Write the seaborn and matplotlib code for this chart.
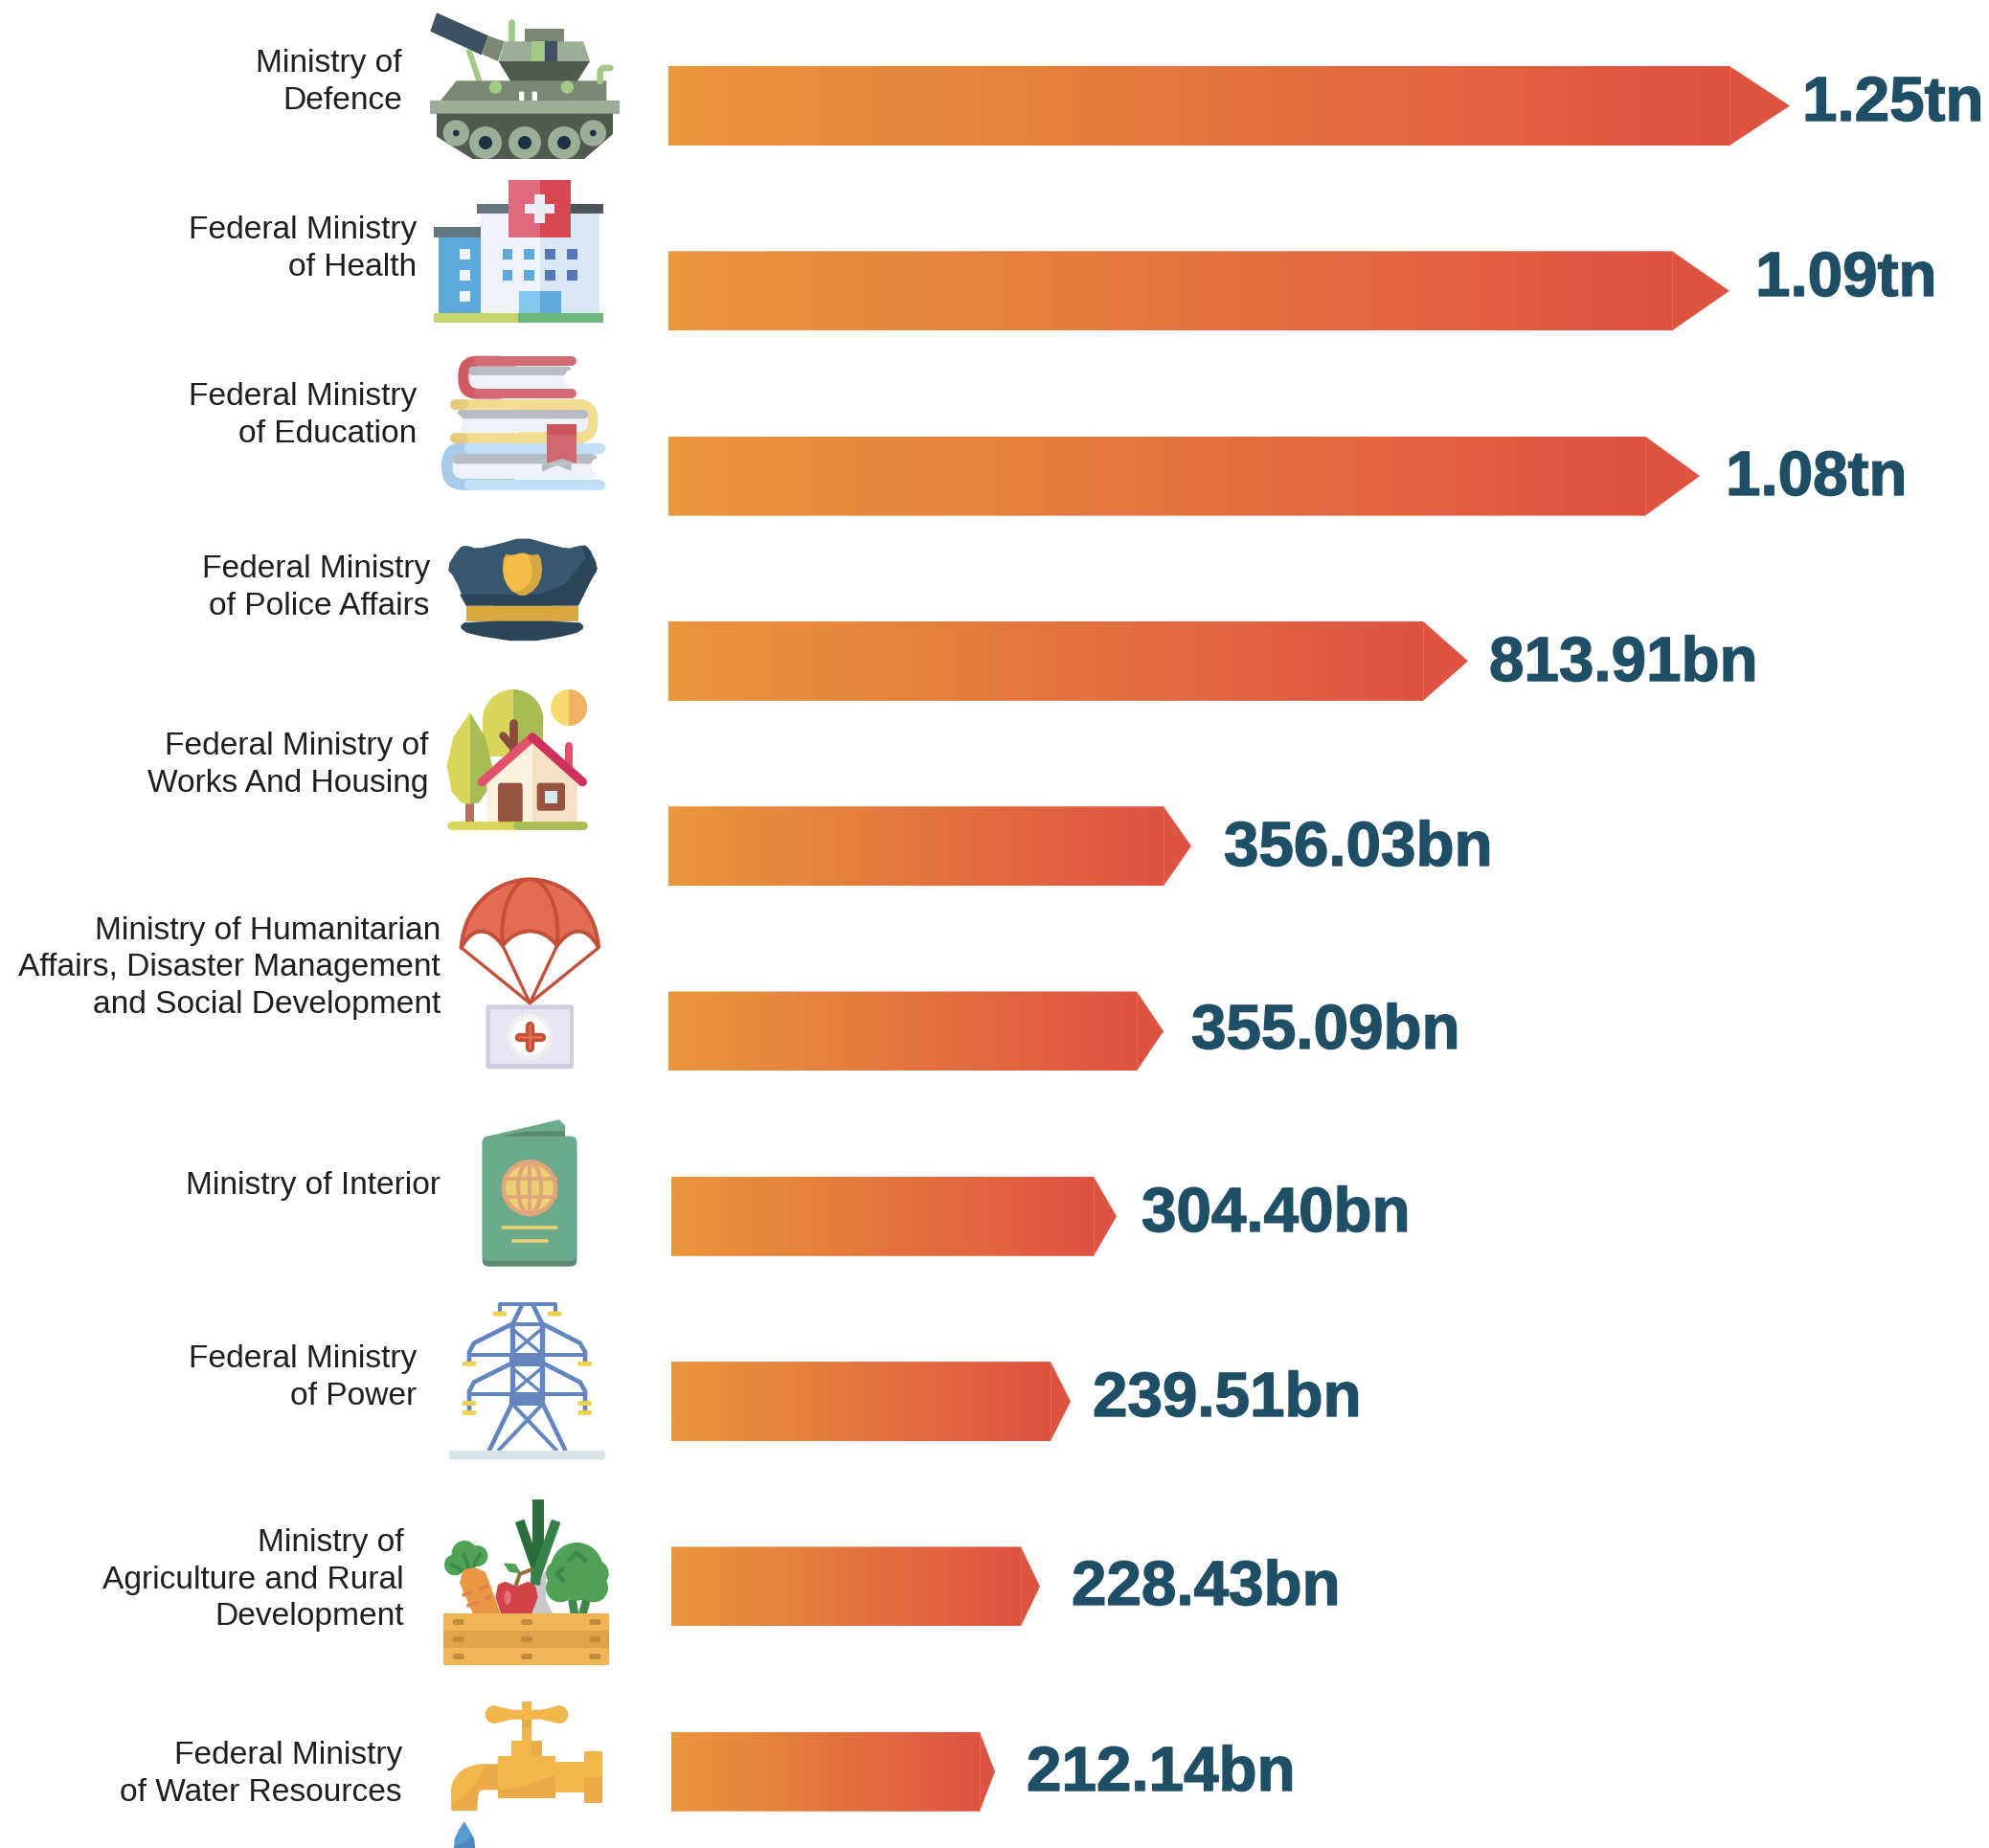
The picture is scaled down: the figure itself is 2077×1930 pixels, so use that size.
import numpy as np
import matplotlib
matplotlib.use("Agg")
import matplotlib.pyplot as plt
import matplotlib.patheffects as pe
from matplotlib.colors import to_rgb
from matplotlib.path import Path
from matplotlib.patches import Polygon, Rectangle, Circle, Ellipse, Wedge, FancyBboxPatch, PathPatch
import seaborn as sns

W, H = 2077, 1930

# ---- data ----
ministries = ["Ministry of\nDefence", "Federal Ministry\nof Health", "Federal Ministry\nof Education",
              "Federal Ministry\nof Police Affairs", "Federal Ministry of\nWorks And Housing",
              "Ministry of Humanitarian\nAffairs, Disaster Management\nand Social Development",
              "Ministry of Interior", "Federal Ministry\nof Power",
              "Ministry of\nAgriculture and Rural\nDevelopment", "Federal Ministry\nof Water Resources"]
value_labels = ["1.25tn", "1.09tn", "1.08tn", "813.91bn", "356.03bn", "355.09bn",
                "304.40bn", "239.51bn", "228.43bn", "212.14bn"]
# the infographic's drawn bar lengths (not to scale with the values)
bar_length = [1108, 1048, 1020, 788, 517, 489, 444, 399, 368, 325]
tip_length = [63, 60, 57, 47, 29, 28, 24, 21, 20, 16]
bar_inset = [0, 0, 0, 0, 0, 0, 3, 3, 3, 3]
name_right = [420, 435, 435, 449, 448, 460, 460, 435, 422, 420]
name_y = [86, 260, 434, 614, 799, 1011, 1238, 1439, 1650, 1853]
value_x = [1882, 1833, 1802, 1555, 1278, 1244, 1192, 1141, 1119, 1072]
value_base = [126, 309, 517, 711, 904, 1095, 1286, 1479, 1676, 1870]

C_LEFT, C_RIGHT = "#EA973C", "#DE5341"
C_VALUE, C_NAME = "#1F4F66", "#1E1E1E"
STEP = 193.3

fig = plt.figure(figsize=(W / 100, H / 100), dpi=100, facecolor="white")
ax = fig.add_axes([0, 0, 1, 1])
sns.barplot(x=bar_length, y=ministries, orient="h", width=83 / STEP, color=C_RIGHT,
            saturation=1, ax=ax)
ax.set_axis_off()

c0, c1 = np.array(to_rgb(C_LEFT)), np.array(to_rgb(C_RIGHT))
for bar, tip, inset in zip(ax.patches, tip_length, bar_inset):
    x0, w = bar.get_x(), bar.get_width()
    bar.set_x(x0 + inset)
    bar.set_width(w - inset)
    y0, h = bar.get_y(), bar.get_height()
    xs = np.linspace(x0 + inset, x0 + w + tip, 300)
    t = np.clip((xs - xs[0]) / (w - inset), 0, 1)
    grad = (c0[None, :] * (1 - t[:, None]) + c1[None, :] * t[:, None])[None, :, :]
    im = ax.imshow(grad, extent=(xs[0], xs[-1], y0 + h, y0), aspect="auto", zorder=3,
                   interpolation="bilinear")
    clip = Polygon([(x0 + inset, y0), (x0 + w, y0), (x0 + w + tip, y0 + h / 2),
                    (x0 + w, y0 + h), (x0 + inset, y0 + h)], closed=True, transform=ax.transData,
                   fc="none", ec="none")
    ax.add_patch(clip)
    im.set_clip_path(clip)
    ax.plot([x0 + w, x0 + w], [y0, y0 + h], color="#E9836F", lw=0.7, alpha=0.45, zorder=4)
    bar.set_visible(False)
ax.set_xlim(-698, W - 698)
ax.set_ylim((H - 110.5) / STEP, -110.5 / STEP)

# ---- pixel-space overlay for names, values and icons ----
ia = fig.add_axes([0, 0, 1, 1], facecolor="none")
ia.set_xlim(0, W)
ia.set_ylim(H, 0)
ia.set_axis_off()

for name, xr, y in zip(ministries, name_right, name_y):
    ia.text(xr, y, name, ha="right", va="center", ma="right", fontsize=24.1, color=C_NAME,
            family="Liberation Sans", linespacing=1.32)
for lab, x, y in zip(value_labels, value_x, value_base):
    ia.text(x, y, lab, ha="left", va="baseline", fontsize=47.2, fontweight="bold", color=C_VALUE,
            family="Liberation Sans",
            path_effects=[pe.withStroke(linewidth=1.0, foreground=C_VALUE)])


class Z:
    """Icon drawing helper: coordinates in zoom-crop pixels from an origin."""
    def __init__(self, ox, oy, sy=1.0):
        self.ox, self.oy, self.sy = ox, oy, sy
        self.z = 10

    def p(self, x, y):
        return self.ox + x / 3, self.oy + self.sy * y / 3

    def _add(self, a):
        self.z += 0.01
        a.set_zorder(self.z)
        ia.add_patch(a)

    def rect(self, x0, y0, x1, y1, c):
        X0, Y0 = self.p(x0, y0)
        self._add(Rectangle((X0, Y0), (x1 - x0) / 3, self.sy * (y1 - y0) / 3, fc=c, ec="none"))

    def rr(self, x0, y0, x1, y1, r, c):
        X0, Y0 = self.p(x0, y0)
        r3 = r / 3
        self._add(FancyBboxPatch((X0 + r3, Y0 + r3), (x1 - x0) / 3 - 2 * r3, self.sy * (y1 - y0) / 3 - 2 * r3,
                                 boxstyle=f"round,pad={r3},rounding_size={r3}", fc=c, ec="none"))

    def poly(self, pts, c, smooth=0):
        pts = np.array(pts, float)
        for _ in range(smooth):
            a, b = pts, np.roll(pts, -1, axis=0)
            pts = np.column_stack([0.75 * a + 0.25 * b, 0.25 * a + 0.75 * b]).reshape(-1, 2)
        self._add(Polygon([self.p(*q) for q in pts], closed=True, fc=c, ec="none"))

    def circ(self, x, y, r, c):
        self._add(Circle(self.p(x, y), r / 3, fc=c, ec="none"))

    def ell(self, x, y, w, h, c, ec="none", lw=0):
        self._add(Ellipse(self.p(x, y), w / 3, self.sy * h / 3, fc=c, ec=ec, lw=lw * 0.24))

    def wedge(self, x, y, r, t0, t1, c):
        self._add(Wedge(self.p(x, y), r / 3, t0, t1, fc=c, ec="none"))

    def line(self, pts, lw, c, cap="round", join="round"):
        self.z += 0.01
        q = np.array([self.p(*a) for a in pts])
        ia.plot(q[:, 0], q[:, 1], color=c, lw=lw * 0.24, solid_capstyle=cap, solid_joinstyle=join,
                zorder=self.z)

    def bez(self, verts, fc="none", ec="none", lw=0):
        """verts: start point followed by triples (cubic) or singles (line)."""
        v = [self.p(*verts[0])]
        codes = [Path.MOVETO]
        for seg in verts[1:]:
            if len(seg) == 3:
                v += [self.p(*s) for s in seg]
                codes += [Path.CURVE4] * 3
            else:
                v.append(self.p(*seg[0]))
                codes.append(Path.LINETO)
        self._add(PathPatch(Path(v, codes), fc=fc, ec=ec, lw=lw * 0.24, capstyle="round"))


# --- tank ---
z = Z(420, 0)
G, DG, MG, LG, NV = "#A2C986", "#505A4E", "#7A8773", "#9BAE96", "#3E5062"
z.line([(343, 68), (343, 135)], 20, G)
z.line([(208, 155), (242, 255)], 18, G, cap="butt")
z.poly([(108, 40), (270, 112), (248, 172), (88, 98)], NV)
z.poly([(270, 112), (320, 130), (300, 192), (250, 170)], MG)
z.rect(384, 90, 507, 132, MG)
z.poly([(320, 130), (568, 130), (588, 192), (302, 192)], LG)
z.rect(405, 130, 445, 192, G)
z.rect(447, 130, 487, 192, NV)
z.poly([(302, 192), (588, 192), (548, 255), (340, 255)], DG)
z.poly([(120, 315), (170, 253), (640, 253), (640, 315)], MG)
z.circ(292, 273, 20, G)
z.circ(517, 273, 20, G)
z.rr(366, 287, 382, 315, 3, "white")
z.rr(407, 287, 423, 315, 3, "white")
z.line([(620, 255), (620, 222), (628, 213), (652, 213)], 20, G)
z.rect(88, 315, 680, 356, LG)
z.poly([(108, 356), (660, 356), (660, 420), (570, 498), (220, 498), (108, 428)], DG)
for x, y, r, hole in [(169, 417, 41, 10), (261, 447, 51, 21), (384, 447, 51, 21), (507, 447, 51, 21), (598, 417, 41, 10)]:
    z.circ(x, y, r, LG)
    z.circ(x, y, hole, "#1A3344")

# --- hospital ---
z.rect(113, 745, 247, 985, "#5DA9DC")
z.rect(99, 712, 247, 745, "#64767F")
for y in (780, 847, 913):
    z.rect(180, y, 212, y + 32, "#EEF3FA")
z.rect(247, 668, 432, 985, "#EEF3FB")
z.rect(432, 668, 618, 985, "#D9E6F3")
z.rect(233, 638, 432, 668, "#64767F")
z.rect(432, 638, 629, 668, "#50545B")
z.rect(333, 564, 432, 744, "#E0697D")
z.rect(432, 564, 528, 744, "#D94652")
z.rect(415, 608, 447, 698, "#EAEFF7")
z.rect(385, 638, 477, 670, "#EAEFF7")
for y in (780, 847):
    for x, c in [(314, "#5DA9DC"), (381, "#5DA9DC"), (448, "#5676B8"), (516, "#5676B8")]:
        z.rect(x, y, x + 32, y + 32, c)
z.rect(365, 913, 432, 985, "#80C8F0")
z.rect(432, 913, 497, 985, "#5DA9DC")
z.rect(99, 981, 364, 1012, "#C3D670")
z.rect(364, 981, 629, 1012, "#6FB67C")

# --- books ---
z = Z(440, 360)
PG, GR = "#ECF1FA", "#B7BBC4"
z.rr(115, 35, 300, 170, 62, "#CF5A63")
z.line([(180, 51), (472, 51)], 30, "#D16C74")
z.line([(180, 154), (472, 154)], 30, "#D16C74")
z.rr(148, 68, 470, 138, 32, PG)
z.rr(148, 68, 470, 96, 14, GR)
z.circ(472, 103, 25, "white")
z.rr(63, 306, 300, 456, 72, "#A7CBEA")
z.line([(150, 324), (558, 324)], 34, "#BFE0F5")
z.line([(150, 438), (558, 438)], 34, "#BFE0F5")
z.rr(98, 342, 550, 420, 32, PG)
z.rr(98, 342, 550, 373, 14, GR)
z.circ(556, 380, 25, "white")
z.rr(300, 172, 553, 306, 62, "#F3DB8F")
z.line([(105, 187), (500, 187)], 32, "#F3DB8F")
z.line([(105, 290), (500, 290)], 32, "#F3DB8F")
z.line([(105, 187), (130, 187)], 32, "#E8C97A")
z.line([(105, 290), (130, 290)], 32, "#E8C97A")
z.rr(112, 204, 522, 274, 28, PG)
z.rr(112, 204, 522, 232, 14, GR)
z.circ(105, 240, 25, "white")
z.poly([(378, 373), (470, 373), (470, 395), (425, 378), (378, 398)], GR)
z.rect(393, 249, 486, 282, "#CC545C")
z.poly([(393, 282), (486, 282), (486, 372), (440, 357), (393, 372)], "#D06872")

# --- police cap ---
z.poly([(78, 700), (118, 636), (140, 628), (175, 640), (240, 625), (320, 602), (400, 625), (460, 640), (490, 630), (522, 628), (556, 700),
        (530, 740), (492, 818), (140, 818), (105, 730)], "#37566F", smooth=1)
z.poly([(120, 782), (370, 782), (450, 750), (515, 670), (505, 633), (520, 633), (552, 700), (530, 740), (492, 818), (140, 818)], "#2C4659")
z.rect(140, 818, 492, 866, "#D7A741")
z.poly([(118, 885), (140, 866), (490, 866), (514, 885), (480, 908), (320, 934), (150, 908)], "#2C4659", smooth=1)
z.poly([(258, 655), (285, 660), (317, 650), (345, 660), (373, 655), (380, 720), (360, 765), (317, 792), (275, 765), (253, 720)], "#D7A741", smooth=1)
z.poly([(262, 662), (285, 662), (317, 652), (340, 660), (350, 720), (335, 755), (295, 778), (275, 765), (255, 720)], "#F2BC46", smooth=1)

# --- house ---
Y1, Y2 = "#D8D65A", "#A7BC53"
z.wedge(287, 1175, 95, 90, 270, Y1)
z.wedge(287, 1175, 95, -90, 90, Y2)
z.rect(192, 1175, 287, 1290, Y1)
z.rect(287, 1175, 382, 1290, Y2)
z.circ(462, 1137, 57, "#F8D96C")
z.wedge(462, 1137, 57, -90, 90, "#F0B264")
z.rect(138, 1435, 165, 1497, "#B5705A")
z.poly([(152, 1152), (100, 1230), (80, 1320), (95, 1400), (125, 1435), (152, 1440)], Y1)
z.poly([(152, 1152), (200, 1230), (222, 1320), (205, 1400), (180, 1435), (152, 1440)], Y2)
z.line([(287, 1185), (287, 1275)], 26, "#8A4A3C")
z.line([(256, 1225), (287, 1262)], 24, "#8A4A3C")
z.line([(463, 1258), (463, 1340)], 24, "#E0536B")
z.poly([(205, 1372), (348, 1245), (348, 1497), (205, 1497)], "#FAF1E0")
z.poly([(348, 1245), (488, 1372), (488, 1497), (348, 1497)], "#F5E0C3")
z.line([(190, 1370), (348, 1230)], 28, "#E0536B")
z.line([(348, 1230), (505, 1370)], 28, "#CE325C")
z.rr(240, 1373, 317, 1497, 10, "#96543F")
z.rr(362, 1373, 450, 1460, 10, "#96543F")
z.rect(388, 1398, 425, 1436, "#D4E8EF")
z.line([(92, 1507), (300, 1507)], 26, Y1)
z.line([(300, 1507), (506, 1507)], 26, Y2)

# --- parachute, passport, pylon: crop was displayed compressed vertically ---
z = Z(440, 900, sy=1.224)
RD = "#C4503A"
z.bez([(125, 220), ((135, 100), (250, 45), (340, 45)), ((430, 45), (545, 100), (555, 220)),
       ((520, 165), (470, 165), (425, 215)), ((380, 165), (300, 165), (255, 215)),
       ((210, 165), (160, 165), (125, 220))], fc="#E26C55", ec=RD, lw=12)
z.bez([(255, 215), ((245, 130), (275, 70), (320, 47))], ec=RD, lw=12)
z.bez([(425, 215), ((435, 130), (405, 70), (360, 47))], ec=RD, lw=12)
for x, y in [(125, 220), (255, 215), (425, 215), (555, 220)]:
    z.line([(x, y), (340, 362)], 10, RD)
z.rr(202, 366, 477, 530, 10, "#CECEDF")
z.rect(215, 378, 465, 517, "#E6E7F2")
z.ell(340, 448, 142, 118, "#F0F0F2")
z.ell(340, 448, 115, 95, "#FFFFFF")
z.line([(305, 448), (375, 448)], 28, RD)
z.line([(340, 420), (340, 476)], 28, RD)
z.line([(305, 448), (375, 448)], 8, "#E26C55")
z.line([(340, 420), (340, 476)], 8, "#E26C55")

z.poly([(195, 705), (432, 660), (450, 675), (450, 705)], "#6BAB8C")
z.poly([(250, 703), (325, 690), (450, 690), (450, 705)], "#5A8A72")
z.rr(191, 703, 487, 1036, 20, "#5A8A72")
z.rr(191, 703, 487, 1022, 20, "#6BAB8C")
z.ell(339, 835, 176, 145, "#E0A57A")
z.ell(339, 835, 150, 122, "#EBCF73")
z.ell(339, 835, 72, 132, "none", ec="#E0A57A", lw=13)
z.line([(339, 768), (339, 902)], 12, "#E0A57A", cap="butt")
z.line([(255, 811), (425, 811)], 11, "#E0A57A", cap="butt")
z.line([(255, 859), (425, 859)], 11, "#E0A57A", cap="butt")
z.line([(256, 937), (423, 937)], 11, "#EBCF73")
z.line([(287, 970), (392, 970)], 11, "#EBCF73")

B, YL = "#6486C0", "#EFD04F"
z.line([(245, 1156), (245, 1133), (420, 1133), (420, 1156)], 12, B)
z.line([(315, 1135), (282, 1190)], 14, B)
z.line([(350, 1135), (383, 1190)], 14, B)
z.line([(284, 1185), (284, 1390)], 16, B, cap="butt")
z.line([(378, 1185), (378, 1390)], 16, B, cap="butt")
z.line([(284, 1185), (378, 1185)], 12, B, cap="butt")
for yt in (1195, 1295):
    z.line([(284, yt), (378, yt + 65)], 10, B, cap="butt")
    z.line([(378, yt), (284, yt + 65)], 10, B, cap="butt")
z.rect(276, 1258, 386, 1292, B)
z.rect(276, 1358, 386, 1392, B)
z.line([(282, 1390), (212, 1508)], 14, B, cap="butt")
z.line([(382, 1390), (452, 1508)], 14, B, cap="butt")
z.line([(290, 1392), (425, 1508)], 12, B, cap="butt")
z.line([(375, 1392), (240, 1508)], 12, B, cap="butt")
for yt, yb in [(1185, 1280), (1285, 1410)]:
    z.line([(280, yt), (165, yt + 47), (150, yt + 70), (150, yb)], 14, B)
    z.line([(385, yt), (497, yt + 47), (513, yt + 70), (513, yb)], 14, B)
    z.line([(150, yt + 77), (513, yt + 77)], 12, B)
for x0 in (128, 490):
    for y in (1279, 1380, 1404):
        z.rr(x0, y, x0 + 44, y + 12, 5, YL)
z.rr(223, 1151, 267, 1163, 5, YL)
z.rr(395, 1151, 439, 1163, 5, YL)
z.rr(87, 1507, 575, 1531, 8, "#D7E4E8")

# --- vegetables ---
z = Z(440, 1540)
GN, DGN = "#4FA155", "#3E8A4D"
z.poly([(345, 350), (390, 300), (390, 390), (412, 437), (345, 437)], "#C8C8C8")
z.rect(348, 78, 384, 300, "#2F6D3F")
z.line([(308, 145), (358, 290), (358, 345)], 30, "#2A6E3E", cap="butt")
z.line([(422, 145), (360, 320), (355, 345)], 30, "#35814B", cap="butt")
for x, y, r in [(105, 283, 33), (135, 247, 40), (175, 255, 33), (140, 280, 25)]:
    z.circ(x, y, r, GN)
z.line([(95, 283), (138, 305)], 12, DGN)
z.line([(133, 250), (150, 295)], 12, DGN)
z.line([(183, 250), (163, 290)], 12, DGN)
z.poly([(120, 340), (130, 300), (165, 290), (200, 305), (212, 335), (248, 437), (162, 437)], "#EA9644")
z.line([(133, 377), (153, 370)], 12, "#D98450")
z.line([(183, 358), (205, 350)], 12, "#D98450")
z.line([(203, 388), (217, 382)], 12, "#D98450")
z.line([(147, 410), (175, 400)], 12, "#D98450")
z.poly([(257, 277), (295, 280), (313, 310), (275, 305)], GN)
z.poly([(232, 385), (240, 345), (262, 335), (298, 350), (335, 335), (358, 350), (365, 385), (345, 437), (250, 437)], "#D54246")
z.ell(270, 386, 22, 45, "#E56F76")
z.line([(297, 345), (308, 312), (347, 297)], 12, "#8F6D3A")
z.line([(472, 390), (480, 437)], 26, DGN, cap="butt")
z.line([(518, 390), (505, 437)], 26, DGN, cap="butt")
for x, y, r in [(487, 295, 82), (430, 310, 40), (545, 310, 42), (435, 355, 45), (540, 355, 45), (487, 345, 50)]:
    z.circ(x, y, r, GN)
z.line([(462, 268), (487, 245), (513, 268)], 14, DGN)
z.line([(442, 295), (425, 312), (445, 332)], 14, DGN)
z.rect(69, 435, 588, 489, "#F2B556")
z.rect(69, 489, 588, 543, "#E1A24A")
z.rect(69, 543, 588, 597, "#F2B556")
for x in (98, 312, 526):
    for y in (453, 507, 561):
        z.rr(x, y, x + 36, y + 18, 8, "#C08C3E")

# --- tap ---
L, D = "#F2B64C", "#EBA947"
z.circ(228, 752, 28, L)
z.circ(432, 752, 28, L)
z.poly([(228, 724), (285, 737), (375, 737), (432, 724), (432, 780), (375, 767), (285, 767), (228, 780)], L)
z.rect(314, 712, 346, 835, L)
z.rect(314, 768, 346, 792, D)
z.rect(281, 835, 346, 883, L)
z.rect(346, 835, 378, 883, D)
z.bez([(94, 1053), ((94, 1053),), ((94, 990),), ((94, 940), (140, 907), (200, 907)), ((240, 907),), ((240, 988),),
       ((195, 988),), ((180, 988), (175, 1000), (175, 1053)), ((94, 1053),)], fc=D)
z.bez([(94, 1035), ((94, 990),), ((94, 940), (140, 907), (200, 907)), ((185, 960), (140, 1010), (94, 1035))], fc=L)
z.rect(419, 899, 509, 997, L)
z.rect(240, 883, 419, 1013, L)
z.poly([(240, 990), (330, 975), (419, 940), (419, 1013), (240, 1013)], D)
z.rect(509, 867, 566, 948, L)
z.rect(509, 948, 566, 1029, D)
z.poly([(134, 1087), (150, 1112), (165, 1140), (168, 1170), (102, 1170), (104, 1140), (118, 1112)], "#5B9AD3")
z.poly([(104, 1170), (115, 1160), (140, 1150), (152, 1130), (165, 1140), (168, 1170)], "#4F86C0")

fig.savefig("out.png", dpi=100, facecolor="white")
